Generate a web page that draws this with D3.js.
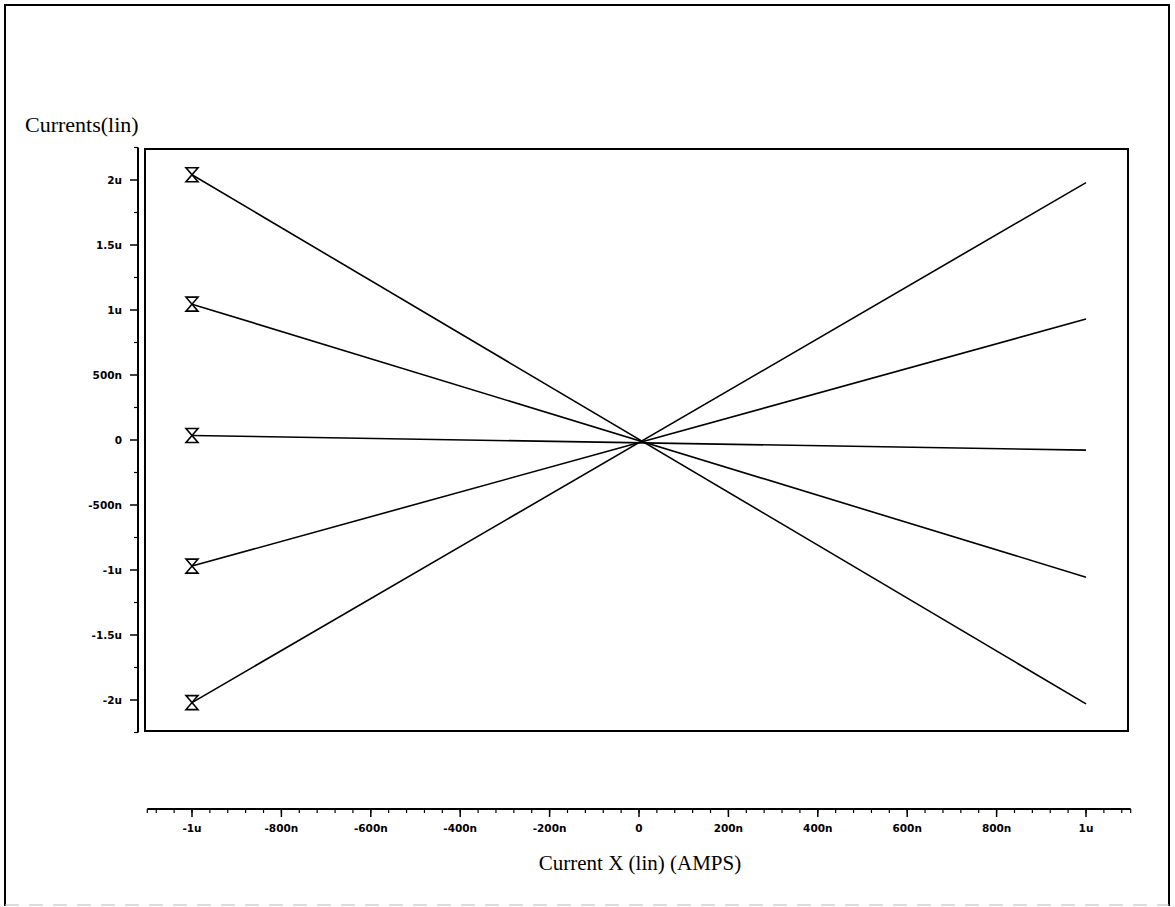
<!DOCTYPE html>
<html>
<head>
<meta charset="utf-8">
<script src="https://cdn.jsdelivr.net/npm/d3@7"></script>
<style>
    body { margin: 0; background: #fff; }
    svg { display: block; }
    .tick-label { font-family: "DejaVu Sans", sans-serif; font-weight: bold; font-size: 10.5px; }
    .title { font-family: "Liberation Serif", "Times New Roman", serif; font-size: 22px; }
</style>
</head>
<body>
<svg id="chart" width="1175" height="907"></svg>
<script>
// sweep of Current X, two end points per trace
var sweepX = [-1e-6, 1e-6];

// traces (amps at x = -1u and x = 1u)
var trace1 = [2.04e-6, -2.03e-6];
var trace2 = [1.045e-6, -1.055e-6];
var trace3 = [0.035e-6, -0.078e-6];
var trace4 = [-0.97e-6, 0.93e-6];
var trace5 = [-2.02e-6, 1.98e-6];
var traces = [trace1, trace2, trace3, trace4, trace5];

var yTicks = [2e-6, 1.5e-6, 1e-6, 500e-9, 0, -500e-9, -1e-6, -1.5e-6, -2e-6];
var yTickLabels = ['2u', '1.5u', '1u', '500n', '0', '-500n', '-1u', '-1.5u', '-2u'];
var xTicks = [-1e-6, -800e-9, -600e-9, -400e-9, -200e-9, 0, 200e-9, 400e-9, 600e-9, 800e-9, 1e-6];
var xTickLabels = ['-1u', '-800n', '-600n', '-400n', '-200n', '0', '200n', '400n', '600n', '800n', '1u'];

(function () {
    var svg = d3.select('#chart');

    // outer frame
    svg.append('path')
        .attr('d', 'M5,906 L5,5 L1169,5 L1169,906')
        .attr('fill', 'none')
        .attr('stroke', '#000')
        .attr('stroke-width', 2);
    svg.append('line')
        .attr('x1', 5).attr('x2', 1169)
        .attr('y1', 905).attr('y2', 905)
        .attr('stroke', '#bbb')
        .attr('stroke-dasharray', '14,10');

    var x = d3.scaleLinear().domain([-1e-6, 1e-6]).range([192, 1086]);
    var y = d3.scaleLinear().domain([-2e-6, 2e-6]).range([700, 180]);

    // plot box
    svg.append('rect')
        .attr('x', 145).attr('y', 149)
        .attr('width', 983).attr('height', 582)
        .attr('fill', 'none')
        .attr('stroke', '#000')
        .attr('stroke-width', 2);

    // y axis, drawn left of the box
    var yAxisX = 138;
    var yg = svg.append('g');
    yg.append('line')
        .attr('x1', yAxisX).attr('x2', yAxisX)
        .attr('y1', y(2.25e-6)).attr('y2', y(-2.25e-6))
        .attr('stroke', '#000').attr('stroke-width', 2);
    yg.selectAll('.ymajor').data(yTicks)
        .enter().append('line')
            .attr('x1', yAxisX - 8).attr('x2', yAxisX)
            .attr('y1', d => y(d)).attr('y2', d => y(d))
            .attr('stroke', '#000').attr('stroke-width', 1.5);
    yg.selectAll('.yminor').data(d3.range(-2.25e-6, 2.26e-6, 0.5e-6))
        .enter().append('line')
            .attr('x1', yAxisX - 4).attr('x2', yAxisX)
            .attr('y1', d => y(d)).attr('y2', d => y(d))
            .attr('stroke', '#000').attr('stroke-width', 1.2);
    yg.selectAll('text').data(yTicks)
        .enter().append('text')
            .attr('class', 'tick-label')
            .attr('x', 122)
            .attr('y', d => y(d) + 4)
            .attr('text-anchor', 'end')
            .text((d, i) => yTickLabels[i]);

    // x axis, drawn below the box
    var xAxisY = 809;
    var xg = svg.append('g');
    xg.append('line')
        .attr('x1', x(-1.1e-6)).attr('x2', x(1.1e-6))
        .attr('y1', xAxisY).attr('y2', xAxisY)
        .attr('stroke', '#000').attr('stroke-width', 2);
    xg.selectAll('.xmajor').data(xTicks)
        .enter().append('line')
            .attr('x1', d => x(d)).attr('x2', d => x(d))
            .attr('y1', xAxisY).attr('y2', xAxisY + 8)
            .attr('stroke', '#000').attr('stroke-width', 1.5);
    var minors = d3.range(-27, 28).map(i => i * 40e-9).concat([-1.1e-6, 1.1e-6]);
    xg.selectAll('.xminor').data(minors)
        .enter().append('line')
            .attr('x1', d => x(d)).attr('x2', d => x(d))
            .attr('y1', xAxisY).attr('y2', xAxisY + 4)
            .attr('stroke', '#000').attr('stroke-width', 1.2);
    xg.selectAll('text').data(xTicks)
        .enter().append('text')
            .attr('class', 'tick-label')
            .attr('x', d => x(d))
            .attr('y', 832)
            .attr('text-anchor', 'middle')
            .text((d, i) => xTickLabels[i]);

    // titles
    svg.append('text')
        .attr('class', 'title')
        .attr('x', 25).attr('y', 132)
        .text('Currents(lin)');
    svg.append('text')
        .attr('class', 'title')
        .attr('x', 640).attr('y', 870)
        .attr('text-anchor', 'middle')
        .style('font-size', '21px')
        .text('Current X (lin) (AMPS)');

    // traces
    var line = d3.line()
        .x((d, i) => x(sweepX[i]))
        .y(d => y(d));

    svg.selectAll('.trace').data(traces)
        .enter().append('path')
            .attr('class', 'trace')
            .attr('d', line)
            .attr('fill', 'none')
            .attr('stroke', '#000')
            .attr('stroke-width', 1.6);

    // hourglass markers at the first sweep point
    var marker = 'M-6,-7 L6,-7 L-6,7 L6,7 Z';
    svg.selectAll('.marker').data(traces)
        .enter().append('path')
            .attr('class', 'marker')
            .attr('transform', d => 'translate(' + x(sweepX[0]) + ',' + y(d[0]) + ')')
            .attr('d', marker)
            .attr('fill', 'none')
            .attr('stroke', '#000')
            .attr('stroke-width', 1.6);
}());
</script>
</body>
</html>
